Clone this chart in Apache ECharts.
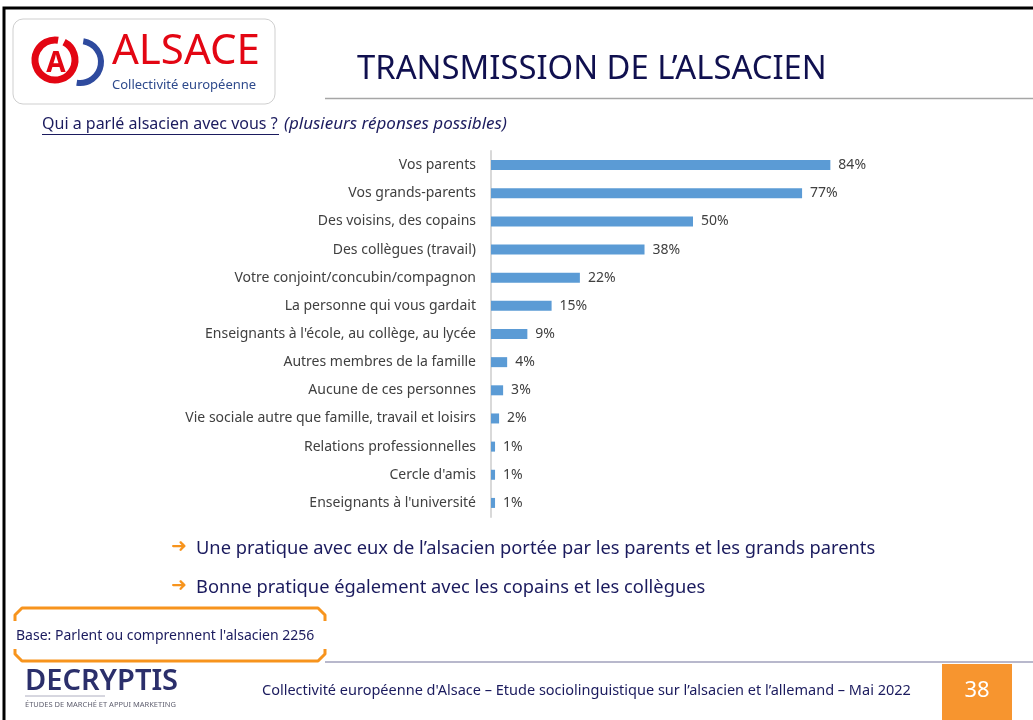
<!DOCTYPE html>
<html>
<head>
<meta charset="utf-8">
<script src="https://cdn.jsdelivr.net/npm/echarts@6/dist/echarts.min.js"></script>
<style>
  html, body { margin: 0; padding: 0; background: #fff; }
  #main { width: 1033px; height: 720px; }
</style>
</head>
<body>
<div id="main"></div>
<script>
// categories (top to bottom) and their share in %
var categories = [
  'Vos parents',
  'Vos grands-parents',
  'Des voisins, des copains',
  'Des collègues (travail)',
  'Votre conjoint/concubin/compagnon',
  'La personne qui vous gardait',
  "Enseignants à l'école, au collège, au lycée",
  'Autres membres de la famille',
  'Aucune de ces personnes',
  'Vie sociale autre que famille, travail et loisirs',
  'Relations professionnelles',
  "Cercle d'amis",
  "Enseignants à l'université"
];
var values = [84, 77, 50, 38, 22, 15, 9, 4, 3, 2, 1, 1, 1];

var slideTitle = 'TRANSMISSION DE L\u2019ALSACIEN';
var question = 'Qui a parlé alsacien avec vous ?';
var questionNote = '(plusieurs réponses possibles)';
var bullets = [
  'Une pratique avec eux de l\u2019alsacien portée par les parents et les grands parents',
  'Bonne pratique également avec les copains et les collègues'
];
var baseText = "Base: Parlent ou comprennent l'alsacien 2256";
var footer = "Collectivité européenne d'Alsace \u2013 Etude sociolinguistique sur l\u2019alsacien et l\u2019allemand \u2013 Mai 2022";
var pageNum = '38';

var FONT = '"Noto Sans", sans-serif';
var NAVY = '#1b1b5e';
var ORANGE = '#f7941d';

var chart = echarts.init(document.getElementById('main'));

var option = {
  backgroundColor: '#fff',
  animation: false,
  textStyle: { fontFamily: FONT },
  grid: { left: 491, right: 138, top: 151, height: 366 },
  xAxis: {
    type: 'value',
    min: 0,
    max: 100,
    show: false
  },
  yAxis: {
    type: 'category',
    inverse: true,
    data: categories,
    axisLine: { lineStyle: { color: '#d9d9d9', width: 2 } },
    axisTick: { show: false },
    axisLabel: { color: '#404040', fontSize: 14, margin: 15, fontFamily: FONT }
  },
  series: [{
    type: 'bar',
    data: values,
    barWidth: 10,
    itemStyle: { color: '#5b9bd5' },
    label: {
      show: true,
      position: 'right',
      distance: 8,
      color: '#404040',
      fontSize: 14,
      fontFamily: FONT,
      formatter: '{c}%'
    }
  }],
  graphic: [
    // slide frame
    { type: 'rect', shape: { x: 4, y: 8, width: 1040, height: 730 }, style: { fill: 'none', stroke: '#000', lineWidth: 3 }, silent: true },
    // logo box
    { type: 'rect', shape: { x: 13, y: 19, width: 262, height: 85, r: 10 }, style: { fill: '#fff', stroke: '#cfcfcf', lineWidth: 1 } },
    { type: 'arc', shape: { cx: 55, cy: 60, r: 20, startAngle: -Math.PI * 0.35, endAngle: Math.PI * 1.55 }, style: { fill: 'none', stroke: '#e30613', lineWidth: 7 } },
    { type: 'text', style: { x: 56, y: 64, text: 'A', fill: '#e30613', font: 'bold 28px ' + FONT, align: 'center', verticalAlign: 'middle' } },
    { type: 'arc', shape: { cx: 80, cy: 62, r: 21, startAngle: -Math.PI * 0.45, endAngle: Math.PI * 0.55 }, style: { fill: 'none', stroke: '#2e4a9e', lineWidth: 6 } },
    { type: 'text', style: { x: 112, y: 52, text: 'ALSACE', fill: '#e30613', font: '42px ' + FONT, verticalAlign: 'middle' } },
    { type: 'text', style: { x: 112, y: 85, text: 'Collectivité européenne', fill: '#2e4a8c', font: '13px ' + FONT, verticalAlign: 'middle' } },
    // title
    { type: 'text', style: { x: 357, y: 70, text: slideTitle, fill: '#10104f', font: '32.8px ' + FONT, verticalAlign: 'middle' } },
    { type: 'line', shape: { x1: 325, y1: 98.5, x2: 1033, y2: 98.5 }, style: { stroke: '#a6a6a6', lineWidth: 1.5 } },
    // question
    { type: 'text', style: { x: 42, y: 124, text: question, fill: NAVY, font: '16px ' + FONT, verticalAlign: 'middle' } },
    { type: 'line', shape: { x1: 42, y1: 134.5, x2: 279, y2: 134.5 }, style: { stroke: NAVY, lineWidth: 1 } },
    { type: 'text', style: { x: 284, y: 124, text: questionNote, fill: NAVY, font: 'italic 17px ' + FONT, verticalAlign: 'middle' } },
    // bullets
    { type: 'text', style: { x: 171, y: 547, text: '\u279c', fill: ORANGE, font: 'bold 19px "DejaVu Sans"', verticalAlign: 'middle' } },
    { type: 'text', style: { x: 196, y: 549, text: bullets[0], fill: NAVY, font: '18.3px ' + FONT, verticalAlign: 'middle' } },
    { type: 'text', style: { x: 171, y: 586, text: '\u279c', fill: ORANGE, font: 'bold 19px "DejaVu Sans"', verticalAlign: 'middle' } },
    { type: 'text', style: { x: 196, y: 588, text: bullets[1], fill: NAVY, font: '18.3px ' + FONT, verticalAlign: 'middle' } },
    // base box (bracket style)
    { type: 'polyline', shape: { points: [[15, 621], [15, 615], [22, 608], [318, 608], [325, 615], [325, 621]] }, style: { fill: 'none', stroke: ORANGE, lineWidth: 3, lineJoin: 'round' } },
    { type: 'polyline', shape: { points: [[15, 649], [15, 654], [22, 661], [318, 661], [325, 654], [325, 649]] }, style: { fill: 'none', stroke: ORANGE, lineWidth: 3, lineJoin: 'round' } },
    { type: 'text', style: { x: 16, y: 636, text: baseText, fill: NAVY, font: '14px ' + FONT, verticalAlign: 'middle' } },
    // footer
    { type: 'line', shape: { x1: 325, y1: 662, x2: 1033, y2: 662 }, style: { stroke: '#b8b8cc', lineWidth: 2 } },
    { type: 'text', style: { x: 25, y: 682, text: 'DECRYPTIS', fill: '#2b2f6b', font: '600 29px ' + FONT, verticalAlign: 'middle' } },
    { type: 'line', shape: { x1: 25, y1: 696, x2: 105, y2: 696 }, style: { stroke: '#9a9ab0', lineWidth: 0.8 } },
    { type: 'text', style: { x: 25, y: 705, text: 'ÉTUDES DE MARCHÉ ET APPUI MARKETING', fill: '#606070', font: '7.5px ' + FONT, verticalAlign: 'middle' } },
    { type: 'text', style: { x: 262, y: 691, text: footer, fill: NAVY, font: '14.5px ' + FONT, verticalAlign: 'middle' } },
    { type: 'rect', shape: { x: 942, y: 664, width: 70, height: 56 }, style: { fill: '#f7952f' } },
    { type: 'text', style: { x: 977, y: 691, text: pageNum, fill: '#fff', font: '22px ' + FONT, align: 'center', verticalAlign: 'middle' } }
  ]
};

chart.setOption(option);
</script>
</body>
</html>
